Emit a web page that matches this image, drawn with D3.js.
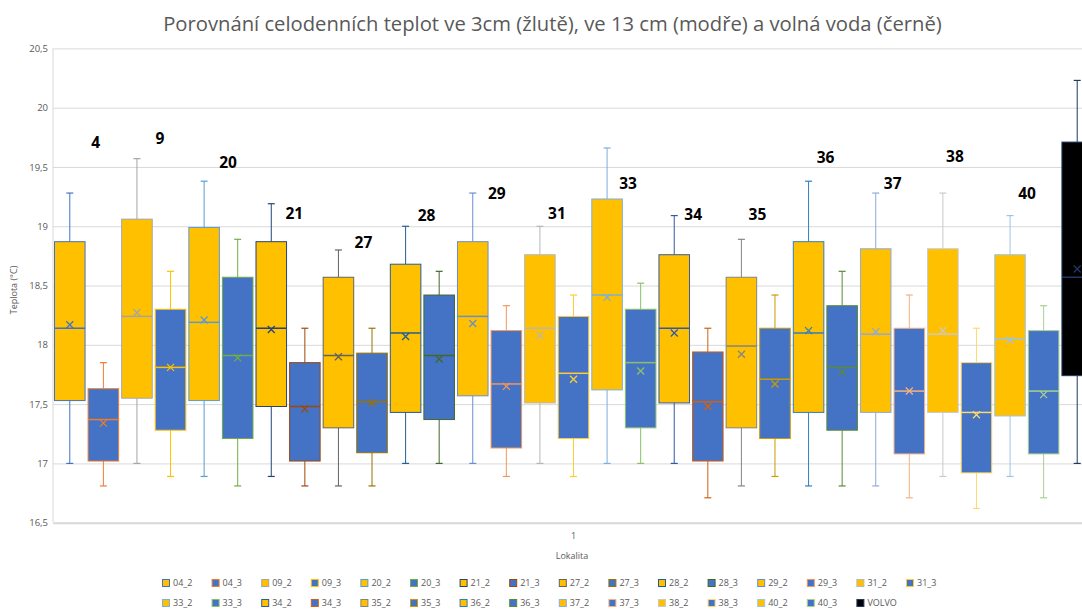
<!DOCTYPE html>
<html><head><meta charset="utf-8">
<script src="https://cdn.jsdelivr.net/npm/d3@7"></script>
<style>body{margin:0;background:#fff}svg{display:block;font-family:"Open Sans","Liberation Sans",Arial,sans-serif}</style>
</head><body><svg id="c" width="1082" height="610"></svg>
<script>
const series = ["04_2","04_3","09_2","09_3","20_2","20_3","21_2","21_3","27_2","27_3","28_2","28_3","29_2","29_3","31_2","31_3","33_2","33_3","34_2","34_3","35_2","35_3","36_2","36_3","37_2","37_3","38_2","38_3","40_2","40_3","VOLVO"];
const maxV  = [19.28,17.85,19.57,18.62,19.38,18.89,19.19,18.14,18.80,18.14,19.00,18.62,19.28,18.33,19.00,18.42,19.66,18.52,19.09,18.14,18.89,18.42,19.38,18.62,19.28,18.42,19.28,18.14,19.09,18.33,20.23];
const q3V   = [18.87,17.63,19.06,18.30,18.99,18.57,18.87,17.85,18.57,17.93,18.68,18.42,18.87,18.12,18.76,18.24,19.23,18.30,18.76,17.94,18.57,18.14,18.87,18.33,18.81,18.14,18.81,17.85,18.76,18.12,19.71];
const medV  = [18.14,17.37,18.24,17.81,18.19,17.91,18.14,17.48,17.91,17.52,18.10,17.91,18.24,17.67,18.14,17.76,18.42,17.85,18.14,17.52,17.99,17.71,18.10,17.81,18.09,17.61,18.09,17.43,18.05,17.61,18.57];
const meanV = [18.17,17.34,18.27,17.81,18.21,17.89,18.13,17.46,17.90,17.51,18.07,17.88,18.18,17.65,18.08,17.71,18.40,17.78,18.10,17.48,17.92,17.67,18.12,17.77,18.11,17.61,18.12,17.41,18.04,17.58,18.64];
const q1V   = [17.53,17.02,17.55,17.28,17.53,17.21,17.48,17.02,17.30,17.09,17.43,17.37,17.57,17.13,17.51,17.21,17.62,17.30,17.51,17.02,17.30,17.21,17.43,17.28,17.43,17.08,17.43,16.92,17.40,17.08,17.74];
const minV  = [17.00,16.81,17.00,16.89,16.89,16.81,16.89,16.81,16.81,16.81,17.00,17.00,17.00,16.89,17.00,16.89,17.00,17.00,17.00,16.71,16.81,16.89,16.81,16.81,16.81,16.71,16.89,16.62,16.89,16.71,17.00];

const yTicks = [16.5,17,17.5,18,18.5,19,19.5,20,20.5];
const yTickLabels = ["16,5","17","17,5","18","18,5","19","19,5","20","20,5"];
const categories = ["1"];

const labelText = ["4","9","20","21","27","28","29","31","33","34","35","36","37","38","40"];
const labelY = [19.71,19.74,19.54,19.11,18.86,19.09,19.28,19.11,19.36,19.10,19.10,19.58,19.36,19.59,19.28];
const labelDx = [26,23,24,23,25,21,24,17,21,19,16,17,17,12,17];

const accents = ["#4472C4","#ED7D31","#A5A5A5","#FFC000","#5B9BD5","#70AD47"];
const variants = [[1,0],[0.6,0],[0.8,0.2],[0.8,0],[0.6,0.4],[0.5,0]];
function seriesColor(i){
  const c = d3.hsl(accents[i%6]);
  const v = variants[Math.floor(i/6)%6];
  c.l = Math.min(1, c.l*v[0]+v[1]);
  return c.formatHex();
}
function fillColor(name){
  if(name==="VOLVO") return "#000000";
  return name.endsWith("_2") ? "#FFC000" : "#4472C4";
}

const svg = d3.select("#c");
const L = 53, R = 1094, T = 48.4, B = 522.7;
const x = d3.scaleBand().domain(series).range([L,R]).paddingInner(0.09).paddingOuter(0.045);
const y = d3.scaleLinear().domain([16.5,20.5]).range([B,T]);
const xc = d3.scaleBand().domain(categories).range([L,R]);
const FF = '"Open Sans","Liberation Sans",Arial,sans-serif';

// title
const title = svg.append("text").attr("x",552.5).attr("y",31).attr("text-anchor","middle")
  .attr("fill","#595959").style("font-size","18px")
  .text("Porovnání celodenních teplot ve 3cm (žlutě), ve 13 cm (modře) a volná voda (černě)");
const tw = title.node().getComputedTextLength();
title.style("font-size",(18*779/tw).toFixed(2)+"px");

// grid + y axis
const gy = svg.append("g").attr("transform",`translate(${L},0)`)
  .call(d3.axisLeft(y).tickValues(yTicks).tickFormat((d,i)=>yTickLabels[i]).tickSize(-(R-L)).tickPadding(5));
gy.select(".domain").remove();
gy.selectAll("line").attr("stroke","#D9D9D9").attr("stroke-width",1);
gy.selectAll("text").attr("fill","#595959").style("font-size","9.5px").style("font-family",FF);
svg.append("line").attr("x1",L).attr("x2",L).attr("y1",T).attr("y2",B).attr("stroke","#D9D9D9");

// x axis
const gx = svg.append("g").attr("transform",`translate(0,${B})`)
  .call(d3.axisBottom(xc).tickSize(0).tickPadding(10));
gx.select(".domain").attr("stroke","#D9D9D9").attr("stroke-width",2);
gx.selectAll("text").attr("fill","#595959").style("font-size","9px").style("font-family",FF);

svg.append("text").attr("x",572).attr("y",559).attr("text-anchor","middle").attr("fill","#595959")
  .style("font-size","9px").text("Lokalita");
svg.append("text").attr("transform","translate(17,290) rotate(-90)").attr("text-anchor","middle").attr("fill","#595959")
  .style("font-size","9px").text("Teplota (°C)");

// boxes
const bw = x.bandwidth();
const boxes = svg.append("g").selectAll("g").data(series).join("g");
boxes.each(function(name,i){
  const g = d3.select(this);
  const col = seriesColor(i);
  const cx = x(name)+bw/2;
  g.append("line").attr("x1",cx).attr("x2",cx).attr("y1",y(maxV[i])).attr("y2",y(q3V[i])).attr("stroke",col);
  g.append("line").attr("x1",cx).attr("x2",cx).attr("y1",y(q1V[i])).attr("y2",y(minV[i])).attr("stroke",col);
  [maxV[i],minV[i]].forEach(v=>{
    g.append("line").attr("x1",cx-3.5).attr("x2",cx+3.5).attr("y1",y(v)).attr("y2",y(v)).attr("stroke",col).attr("stroke-width",1.2);
  });
  g.append("rect").attr("x",x(name)).attr("y",y(q3V[i])).attr("width",bw).attr("height",y(q1V[i])-y(q3V[i]))
    .attr("fill",fillColor(name)).attr("stroke",col).attr("stroke-width",1);
  g.append("line").attr("x1",x(name)).attr("x2",x(name)+bw).attr("y1",y(medV[i])).attr("y2",y(medV[i])).attr("stroke",col).attr("stroke-width",1.5);
  const my = y(meanV[i]), s = 3.5;
  g.append("path").attr("d",`M${cx-s},${my-s}L${cx+s},${my+s}M${cx-s},${my+s}L${cx+s},${my-s}`).attr("stroke",col).attr("stroke-width",1.3).attr("fill","none");
});

// labels
svg.append("g").selectAll("text").data(labelText).join("text")
  .attr("x",(d,k)=>x(series[2*k])+bw/2+labelDx[k])
  .attr("y",(d,k)=>y(labelY[k]))
  .attr("dy","0.36em").attr("text-anchor","middle")
  .style("font-size","15.5px").style("font-weight","bold").attr("fill","#000")
  .text(d=>d);

// legend
const lg = svg.append("g").selectAll("g").data(series).join("g")
  .attr("transform",(d,i)=>`translate(${162+(i%16)*49.6},${i<16?583:603})`);
lg.append("rect").attr("x",0.5).attr("y",-3.5).attr("width",7).attr("height",7)
  .attr("fill",d=>fillColor(d)).attr("stroke",(d,i)=>seriesColor(i)).attr("stroke-width",1);
lg.append("text").attr("x",11).attr("y",0).attr("dy","0.35em").attr("fill","#595959").style("font-size","9px").text(d=>d);
</script></body></html>
